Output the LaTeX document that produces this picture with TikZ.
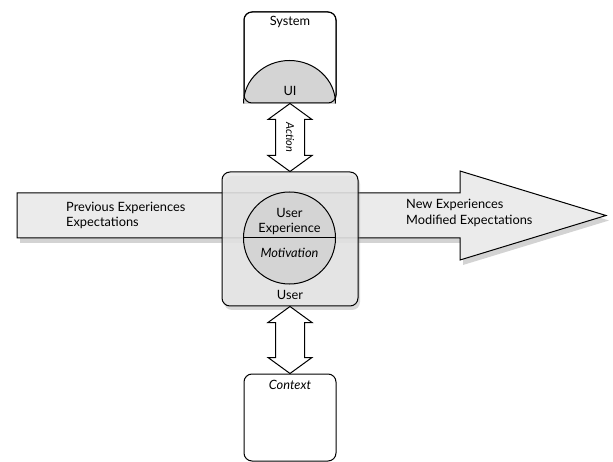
\documentclass[tikz,border=0pt]{standalone}
\usepackage{fontspec}
\setmainfont{Lato}
\usetikzlibrary{shadows,calc}
\definecolor{arrowfill}{HTML}{EBEBEB}
\definecolor{boxfill}{HTML}{E6E6E6}
\definecolor{uifill}{HTML}{D4D4D4}
\begin{document}
\begin{tikzpicture}[x=1pt,y=-1pt,
  every node/.style={font=\fontsize{12.8}{15}\selectfont, inner sep=0pt},
  panel/.style={draw=black, line width=1pt, rounded corners=8pt},
  dblarrow/.style={draw=black, line width=1pt, fill=white, line join=miter},
  bigarrow/.style={draw=black, line width=1pt, fill=arrowfill,
    drop shadow={opacity=0.35, shadow xshift=3pt, shadow yshift=-5pt}},
  lbl/.style={align=left, anchor=west}
]
\useasboundingbox (0,0) rectangle (613,462);
% big arrow
\draw[bigarrow] (17,193) -- (460,193) -- (460,171) -- (606,215.5) -- (460,260) -- (460,238) -- (17,238) -- cycle;
\node[lbl] (prev) at (66,208) {Previous Experiences};
\node[lbl] (expt) at (66,223) {Expectations};
\node[lbl] (newe) at (406,205) {New Experiences};
\node[lbl] (mode) at (406,221) {Modified Expectations};
% system box
\node[panel, minimum width=92pt, minimum height=91pt] (system) at (290,57.5) {};
\begin{scope}
\clip (system.south west) rectangle (system.north east);
\fill[uifill] (system.south) ellipse [x radius=46pt, y radius=43pt];
\end{scope}
\draw[line width=1pt] (system.south west) arc[start angle=180, end angle=0, x radius=46pt, y radius=43pt];
\node[panel, minimum width=92pt, minimum height=91pt] at (290,57.5) {};
\node (systxt) at (290,22) {System};
\node (ui) at (290,91) {UI};
% user box
\node[panel, fill=boxfill, fill opacity=0.85, minimum width=136pt, minimum height=134pt,
  drop shadow={opacity=0.3, shadow xshift=2pt, shadow yshift=-4pt}] (user) at (290,239) {};
\node[circle, draw=black, line width=1pt, fill=uifill, minimum size=92pt] (ux) at (289.5,238) {};
\draw[line width=1pt] (ux.west) -- (ux.east);
\node (uxt1) at (289.5,213) {User};
\node (uxt2) at (289.5,229) {Experience};
\node[font=\fontsize{12.8}{15}\selectfont\itshape] (motiv) at (289.5,253) {Motivation};
\node (usertxt) at (290,295) {User};
% context box
\node[panel, minimum width=92pt, minimum height=87pt] (context) at (290,417.5) {};
\node[font=\fontsize{12.8}{15}\selectfont\itshape] (ctxt) at (290,385) {Context};
% action double arrow
\draw[dblarrow] (system.south) -- ++(22,16) -- ++(-7.5,0) -- ($(user.north)+(14.5,-16)$) -- ++(7.5,0) -- (user.north)
  -- ++(-22,-16) -- ++(7.5,0) -- ($(system.south)+(-14.5,16)$) -- ++(-7.5,0) -- cycle;
\node[rotate=-90, font=\fontsize{11}{13}\selectfont\itshape] (action) at ($(system.south)!0.5!(user.north)$) {Action};
% context double arrow
\draw[dblarrow] (user.south) -- ++(22,16) -- ++(-7.5,0) -- ($(context.north)+(14.5,-16)$) -- ++(7.5,0) -- (context.north)
  -- ++(-22,-16) -- ++(7.5,0) -- ($(user.south)+(-14.5,16)$) -- ++(-7.5,0) -- cycle;
\end{tikzpicture}
\end{document}
